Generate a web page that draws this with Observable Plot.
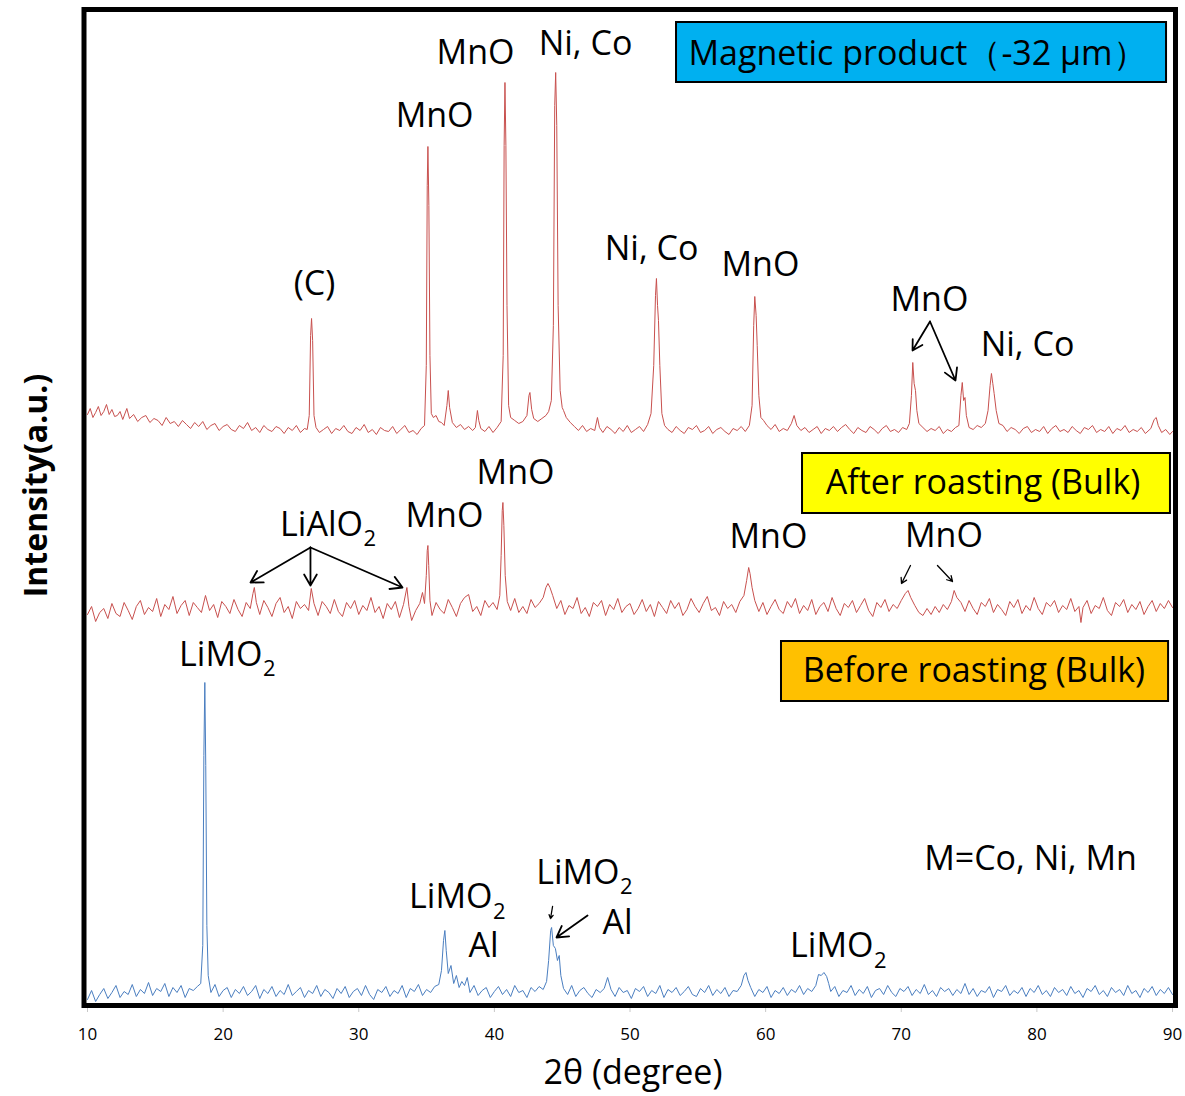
<!DOCTYPE html>
<html><head><meta charset="utf-8">
<script src="https://cdn.jsdelivr.net/npm/d3@7"></script>
<script src="https://cdn.jsdelivr.net/npm/@observablehq/plot@0.6"></script>
<style>body{margin:0;background:#fff}#chart svg{display:block}</style>
</head><body><div id="chart"></div>
<script>
// 2θ (degree), intensity (a.u., stacked display units)
const magneticProduct = [[10.0,591],[10.2,597],[10.4,588],[10.6,593],[10.8,599],[11.0,590],[11.2,594],[11.4,601],[11.6,591],[11.8,596],[12.0,589],[12.2,590],[12.4,594],[12.6,586],[12.9,597],[13.1,587],[13.4,591],[13.7,584],[14.0,588],[14.3,590],[14.6,583],[14.9,587],[15.2,585],[15.5,580],[15.8,588],[16.1,582],[16.4,584],[16.7,579],[17.0,585],[17.3,581],[17.6,577],[17.9,583],[18.2,579],[18.5,584],[18.8,576],[19.1,580],[19.4,582],[19.7,575],[20.0,579],[20.3,581],[20.6,576],[20.9,574],[21.2,580],[21.5,577],[21.8,583],[22.1,575],[22.4,578],[22.7,573],[23.0,580],[23.3,576],[23.6,574],[23.9,579],[24.2,577],[24.5,572],[24.8,578],[25.1,575],[25.4,580],[25.7,573],[26.0,577],[26.2,576],[26.35,590],[26.45,670],[26.52,687],[26.6,665],[26.7,590],[26.85,578],[27.1,573],[27.4,576],[27.7,579],[28.0,572],[28.3,577],[28.6,575],[28.9,580],[29.2,574],[29.5,572],[29.8,578],[30.1,575],[30.4,581],[30.7,573],[31.0,576],[31.3,571],[31.6,578],[31.9,575],[32.2,574],[32.5,579],[32.8,572],[33.1,576],[33.4,580],[33.7,573],[34.0,575],[34.3,571],[34.6,577],[34.85,580],[34.98,640],[35.05,820],[35.1,859],[35.17,800],[35.25,650],[35.35,592],[35.5,588],[35.7,590],[35.9,584],[36.1,583],[36.3,580],[36.5,600],[36.6,615],[36.7,598],[36.9,583],[37.2,578],[37.5,581],[37.8,576],[38.1,579],[38.4,575],[38.6,578],[38.75,595],[38.85,585],[39.0,577],[39.3,574],[39.6,579],[39.9,573],[40.2,578],[40.5,584],[40.65,650],[40.72,860],[40.78,923],[40.85,860],[40.93,700],[41.05,600],[41.2,588],[41.5,585],[41.8,582],[42.1,584],[42.4,590],[42.55,610],[42.62,613],[42.75,596],[42.9,587],[43.2,584],[43.5,587],[43.8,590],[44.0,594],[44.2,605],[44.35,680],[44.45,900],[44.52,933],[44.6,880],[44.7,700],[44.85,615],[45.0,598],[45.1,595],[45.3,588],[45.6,583],[45.9,579],[46.2,575],[46.5,580],[46.8,574],[47.1,577],[47.4,575],[47.6,588],[47.75,578],[48.0,573],[48.3,579],[48.6,576],[48.9,572],[49.2,578],[49.5,574],[49.8,580],[50.1,573],[50.4,576],[50.7,579],[51.0,574],[51.3,581],[51.55,592],[51.75,640],[51.88,710],[51.95,727],[52.03,700],[52.1,685],[52.2,640],[52.35,592],[52.55,580],[52.8,576],[53.1,573],[53.4,579],[53.7,575],[54.0,572],[54.3,578],[54.6,576],[54.9,580],[55.2,573],[55.5,575],[55.8,579],[56.1,572],[56.4,576],[56.7,578],[57.0,574],[57.3,571],[57.6,577],[57.9,575],[58.2,579],[58.5,574],[58.8,580],[59.0,600],[59.12,680],[59.2,709],[59.3,690],[59.38,660],[59.5,610],[59.65,588],[59.85,585],[60.1,580],[60.4,576],[60.7,581],[61.0,574],[61.3,577],[61.6,575],[61.9,582],[62.1,590],[62.3,580],[62.6,575],[62.9,578],[63.2,573],[63.5,576],[63.8,579],[64.1,572],[64.4,577],[64.7,575],[65.0,579],[65.3,574],[65.6,578],[65.9,581],[66.2,576],[66.5,572],[66.8,578],[67.1,575],[67.4,573],[67.7,579],[68.0,576],[68.3,572],[68.6,577],[68.9,580],[69.2,574],[69.5,576],[69.8,573],[70.1,578],[70.4,576],[70.6,582],[70.75,610],[70.85,643],[70.95,622],[71.05,615],[71.15,595],[71.3,582],[71.6,578],[71.9,574],[72.2,577],[72.5,575],[72.8,579],[73.1,572],[73.4,576],[73.7,574],[74.0,578],[74.25,580],[74.4,610],[74.5,623],[74.6,605],[74.7,608],[74.8,590],[75.0,578],[75.3,576],[75.6,580],[75.9,578],[76.2,582],[76.4,595],[76.55,620],[76.65,632],[76.75,622],[76.85,612],[77.0,595],[77.2,582],[77.5,580],[77.8,574],[78.1,578],[78.4,576],[78.7,572],[79.0,577],[79.3,579],[79.6,573],[79.9,576],[80.2,574],[80.5,579],[80.8,572],[81.1,577],[81.4,580],[81.7,574],[82.0,576],[82.3,573],[82.6,579],[82.9,575],[83.2,572],[83.5,578],[83.8,576],[84.1,580],[84.4,573],[84.7,576],[85.0,574],[85.3,579],[85.6,572],[85.9,577],[86.2,575],[86.5,580],[86.8,573],[87.1,576],[87.4,574],[87.7,578],[88.0,572],[88.4,577],[88.65,586],[88.8,588],[88.95,580],[89.2,573],[89.5,576],[89.8,571],[90.0,574]];

const afterRoasting = [[10.0,391],[10.3,399],[10.6,384],[10.9,393],[11.2,397],[11.5,387],[11.8,402],[12.1,392],[12.4,389],[12.7,403],[13.0,395],[13.3,386],[13.6,399],[13.9,405],[14.2,391],[14.5,398],[14.8,394],[15.1,407],[15.4,389],[15.7,401],[16.0,396],[16.3,409],[16.6,392],[16.9,400],[17.2,405],[17.5,390],[17.8,403],[18.1,398],[18.4,393],[18.7,410],[19.0,395],[19.3,401],[19.6,388],[19.9,404],[20.2,399],[20.5,392],[20.8,406],[21.1,396],[21.4,389],[21.7,403],[22.0,397],[22.2,412],[22.3,418],[22.45,403],[22.7,391],[23.0,405],[23.3,398],[23.6,389],[23.9,402],[24.2,408],[24.5,393],[24.8,399],[25.1,387],[25.4,404],[25.7,397],[26.0,401],[26.3,395],[26.5,417],[26.7,402],[27.0,390],[27.3,404],[27.6,399],[27.9,392],[28.2,406],[28.5,394],[28.8,389],[29.1,403],[29.4,397],[29.7,405],[30.0,391],[30.3,400],[30.6,395],[30.9,408],[31.2,393],[31.5,399],[31.8,387],[32.1,402],[32.4,396],[32.7,404],[33.0,388],[33.3,401],[33.55,418],[33.7,399],[33.9,385],[34.2,395],[34.5,402],[34.7,413],[34.85,402],[34.98,430],[35.05,455],[35.1,460],[35.16,440],[35.25,405],[35.4,390],[35.7,403],[36.0,396],[36.3,392],[36.6,406],[36.9,398],[37.2,389],[37.5,402],[37.8,408],[38.1,411],[38.4,394],[38.7,399],[39.0,390],[39.3,405],[39.6,398],[39.9,403],[40.2,396],[40.4,410],[40.5,450],[40.58,495],[40.63,503],[40.7,480],[40.8,430],[40.95,404],[41.2,395],[41.5,407],[41.8,393],[42.1,399],[42.4,392],[42.7,406],[43.0,398],[43.3,402],[43.6,408],[43.8,418],[43.95,422],[44.1,418],[44.3,410],[44.6,397],[44.9,405],[45.2,391],[45.5,400],[45.8,397],[46.1,408],[46.4,392],[46.7,398],[47.0,389],[47.3,403],[47.6,399],[47.9,405],[48.2,390],[48.5,401],[48.8,396],[49.1,407],[49.4,393],[49.7,399],[50.0,402],[50.3,391],[50.6,397],[50.9,406],[51.2,394],[51.5,401],[51.8,389],[52.1,404],[52.4,398],[52.7,392],[53.0,405],[53.3,397],[53.6,403],[53.9,390],[54.2,396],[54.5,407],[54.8,399],[55.1,393],[55.4,402],[55.7,409],[56.0,395],[56.3,398],[56.6,390],[56.9,404],[57.2,397],[57.5,401],[57.8,393],[58.1,404],[58.4,410],[58.6,425],[58.75,438],[58.85,432],[59.0,418],[59.2,405],[59.5,394],[59.8,403],[60.1,391],[60.4,399],[60.7,406],[61.0,396],[61.3,392],[61.6,404],[61.9,398],[62.2,407],[62.5,392],[62.8,400],[63.1,395],[63.4,406],[63.7,391],[64.0,399],[64.3,403],[64.6,394],[64.9,408],[65.2,397],[65.5,390],[65.8,402],[66.1,398],[66.4,405],[66.7,393],[67.0,400],[67.3,407],[67.6,395],[67.9,389],[68.2,403],[68.5,398],[68.8,406],[69.1,394],[69.4,401],[69.7,397],[70.0,405],[70.3,412],[70.5,415],[70.7,408],[71.0,400],[71.3,393],[71.6,390],[71.9,397],[72.2,391],[72.5,399],[72.8,393],[73.1,401],[73.4,396],[73.7,404],[73.9,415],[74.1,408],[74.4,403],[74.7,394],[75.0,405],[75.3,397],[75.6,391],[75.9,403],[76.2,399],[76.5,407],[76.8,393],[77.1,401],[77.4,396],[77.7,390],[78.0,404],[78.3,398],[78.6,406],[78.9,392],[79.2,400],[79.5,395],[79.8,408],[80.1,397],[80.4,391],[80.7,403],[81.0,399],[81.3,405],[81.6,393],[81.9,400],[82.2,396],[82.5,407],[82.8,394],[83.1,399],[83.25,383],[83.4,398],[83.7,405],[84.0,392],[84.3,400],[84.6,397],[84.9,408],[85.2,395],[85.5,390],[85.8,403],[86.1,399],[86.4,406],[86.7,393],[87.0,401],[87.3,396],[87.6,404],[87.9,391],[88.2,399],[88.5,405],[88.8,394],[89.1,402],[89.4,397],[89.7,405],[90.0,398]];

const beforeRoasting = [[10.0,6],[10.3,15],[10.6,4],[10.9,11],[11.2,17],[11.5,7],[11.8,13],[12.1,20],[12.4,8],[12.7,14],[13.0,11],[13.3,21],[13.6,9],[13.9,16],[14.2,12],[14.5,23],[14.8,10],[15.1,17],[15.4,14],[15.7,22],[16.0,9],[16.3,18],[16.6,13],[16.9,20],[17.2,8],[17.5,17],[17.8,15],[18.1,19],[18.35,22],[18.5,60],[18.58,250],[18.65,323],[18.72,240],[18.8,80],[18.9,30],[19.1,13],[19.4,21],[19.7,9],[20.0,15],[20.3,18],[20.6,8],[20.9,16],[21.2,12],[21.5,19],[21.8,10],[22.1,14],[22.4,20],[22.7,7],[23.0,16],[23.3,12],[23.6,19],[23.9,9],[24.2,15],[24.5,11],[24.8,21],[25.1,10],[25.4,14],[25.7,18],[26.0,8],[26.3,15],[26.6,12],[26.9,20],[27.2,9],[27.5,16],[27.8,13],[28.1,7],[28.4,17],[28.7,12],[29.0,19],[29.3,8],[29.6,14],[29.9,17],[30.2,10],[30.5,20],[30.8,11],[31.1,6],[31.4,16],[31.7,13],[32.0,19],[32.3,9],[32.6,15],[32.9,12],[33.2,20],[33.5,8],[33.8,17],[34.1,14],[34.4,21],[34.7,10],[35.0,16],[35.3,13],[35.6,19],[35.9,21],[36.1,35],[36.25,65],[36.35,75],[36.45,55],[36.6,32],[36.8,40],[37.0,22],[37.2,30],[37.4,18],[37.6,24],[37.8,20],[38.0,28],[38.2,13],[38.5,20],[38.8,10],[39.1,15],[39.4,18],[39.7,8],[40.0,14],[40.3,19],[40.6,11],[40.9,16],[41.2,9],[41.5,20],[41.8,13],[42.1,15],[42.4,8],[42.7,18],[43.0,14],[43.3,19],[43.6,16],[43.85,24],[44.0,45],[44.15,75],[44.22,78],[44.35,60],[44.5,57],[44.65,45],[44.78,50],[44.9,30],[45.1,17],[45.4,11],[45.7,20],[46.0,9],[46.3,15],[46.6,18],[46.9,12],[47.2,8],[47.5,16],[47.8,13],[48.1,17],[48.35,28],[48.6,16],[48.9,9],[49.2,18],[49.5,13],[49.8,15],[50.1,7],[50.4,17],[50.7,14],[51.0,19],[51.3,9],[51.6,15],[51.9,12],[52.2,20],[52.5,8],[52.8,16],[53.1,13],[53.4,18],[53.7,10],[54.0,14],[54.3,19],[54.6,11],[54.9,9],[55.2,17],[55.5,13],[55.8,20],[56.1,10],[56.4,16],[56.7,12],[57.0,18],[57.3,9],[57.6,15],[57.9,14],[58.2,20],[58.4,30],[58.55,33],[58.7,25],[58.9,18],[59.2,9],[59.5,16],[59.8,13],[60.1,19],[60.4,8],[60.7,15],[61.0,12],[61.3,18],[61.6,10],[61.9,16],[62.2,13],[62.5,20],[62.8,11],[63.1,17],[63.4,14],[63.7,20],[63.9,31],[64.1,30],[64.3,33],[64.5,29],[64.65,22],[64.8,14],[65.1,19],[65.4,9],[65.7,15],[66.0,13],[66.3,20],[66.6,10],[66.9,16],[67.2,12],[67.5,19],[67.8,8],[68.1,15],[68.4,17],[68.7,11],[69.0,20],[69.3,13],[69.6,9],[69.9,17],[70.2,14],[70.5,19],[70.8,10],[71.1,16],[71.4,12],[71.7,21],[72.0,11],[72.3,15],[72.6,9],[72.9,18],[73.2,14],[73.5,17],[73.8,10],[74.1,16],[74.4,12],[74.7,22],[75.0,11],[75.3,17],[75.6,9],[75.9,15],[76.2,13],[76.5,19],[76.8,8],[77.1,16],[77.4,14],[77.7,20],[78.0,10],[78.3,15],[78.6,12],[78.9,18],[79.2,9],[79.5,17],[79.8,13],[80.1,20],[80.4,11],[80.7,15],[81.0,9],[81.3,18],[81.6,13],[81.9,16],[82.2,10],[82.5,19],[82.8,12],[83.1,15],[83.4,8],[83.7,17],[84.0,14],[84.3,20],[84.6,11],[84.9,15],[85.2,9],[85.5,18],[85.8,13],[86.1,16],[86.4,10],[86.7,20],[87.0,12],[87.3,15],[87.6,8],[87.9,17],[88.2,13],[88.5,19],[88.8,10],[89.1,16],[89.4,12],[89.7,18],[90.0,11]];

const xTicks = [10, 20, 30, 40, 50, 60, 70, 80, 90];
const seriesNames = ["Magnetic product（-32 μm）", "After roasting (Bulk)", "Before roasting (Bulk)"];
const xLabel = "2θ (degree)";
const yLabel = "Intensity(a.u.)";

const FONT = "'Open Sans', 'Noto Sans', sans-serif";
const RED = "#C8504E", BLUE = "#4A7EC0";
const pt = d => ({x: d[0], y: d[1]});

const T = (items, opts = {}) => Plot.text(items, {x: "x", y: "y", text: "t", fontSize: 34, fill: "black", ...opts});
const A = (items, opts = {}) => Plot.arrow(items, {x1: "x1", y1: "y1", x2: "x2", y2: "y2", stroke: "black", strokeWidth: 1.8, headLength: 11, ...opts});

const chart = Plot.plot({
  width: 1185,
  height: 1096,
  marginLeft: 83.5,
  marginRight: 10,
  marginTop: 9,
  marginBottom: 91,
  style: {fontFamily: FONT, background: "white"},
  x: {domain: [10, 90], insetLeft: 3.5, insetRight: 3, axis: null},
  y: {domain: [0, 996], axis: null},
  marks: [
    Plot.axisX({ticks: xTicks, tickSize: 7, text: null, stroke: "#c8c8c8"}),
    Plot.axisX({ticks: xTicks, tickSize: 0, tickPadding: 22, fontSize: 17, tickFormat: d => String(d), fill: "black"}),
    Plot.line(beforeRoasting.map(pt), {x: "x", y: "y", stroke: BLUE, strokeWidth: 1}),
    Plot.line(afterRoasting.map(pt), {x: "x", y: "y", stroke: RED, strokeWidth: 1}),
    Plot.line(magneticProduct.map(pt), {x: "x", y: "y", stroke: RED, strokeWidth: 1}),
    Plot.frame({stroke: "black", strokeWidth: 5}),
    // sample boxes
    Plot.rect([
      {x1: 53.43, x2: 89.56, y1: 923, y2: 983, c: "#00B0F0"},
      {x1: 62.72, x2: 89.85, y1: 492, y2: 552, c: "#FFFF00"},
      {x1: 61.17, x2: 89.71, y1: 304, y2: 364, c: "#FFC000"}
    ], {x1: "x1", x2: "x2", y1: "y1", y2: "y2", fill: "c", stroke: "black", strokeWidth: 2}),
    T([
      {x: 71.2, y: 951.5, t: seriesNames[0]},
      {x: 76.03, y: 522.5, t: seriesNames[1]},
      {x: 75.36, y: 334.5, t: seriesNames[2]}
    ]),
    // peak labels
    T([
      {x: 26.74, y: 721, t: "(C)"},
      {x: 35.59, y: 889, t: "MnO"},
      {x: 38.61, y: 952, t: "MnO"},
      {x: 46.72, y: 961, t: "Ni, Co"},
      {x: 51.59, y: 756, t: "Ni, Co"},
      {x: 59.62, y: 740, t: "MnO"},
      {x: 72.08, y: 705, t: "MnO"},
      {x: 79.31, y: 660, t: "Ni, Co"},
      {x: 36.32, y: 489, t: "MnO"},
      {x: 41.56, y: 532, t: "MnO"},
      {x: 60.21, y: 468, t: "MnO"},
      {x: 73.15, y: 469, t: "MnO"},
      {x: 39.20, y: 59, t: "Al"},
      {x: 49.08, y: 82, t: "Al"},
      {x: 79.53, y: 146.5, t: "M=Co, Ni, Mn"}
    ]),
    T([
      {x: 30.31, y: 480, t: "LiAlO"},
      {x: 22.90, y: 350, t: "LiMO"},
      {x: 39.86, y: 108, t: "LiMO"},
      {x: 49.23, y: 132, t: "LiMO"},
      {x: 67.95, y: 59.5, t: "LiMO"}
    ], {textAnchor: "end"}),
    T([
      {x: 30.35, y: 467, t: "2"},
      {x: 22.94, y: 337, t: "2"},
      {x: 39.90, y: 94, t: "2"},
      {x: 49.27, y: 119, t: "2"},
      {x: 67.99, y: 45, t: "2"}
    ], {textAnchor: "start", fontSize: 22}),
    // arrows
    A([
      {x1: 72.12, y1: 684, x2: 70.83, y2: 655},
      {x1: 72.12, y1: 684, x2: 74.0, y2: 625},
      {x1: 26.44, y1: 458, x2: 22.02, y2: 423},
      {x1: 26.44, y1: 458, x2: 26.44, y2: 420},
      {x1: 26.44, y1: 458, x2: 33.23, y2: 418},
      {x1: 46.87, y1: 90, x2: 44.58, y2: 68}
    ]),
    A([
      {x1: 70.68, y1: 440, x2: 70.02, y2: 422},
      {x1: 72.67, y1: 440, x2: 73.78, y2: 424},
      {x1: 44.29, y1: 99, x2: 44.14, y2: 87}
    ], {strokeWidth: 1.3, headLength: 7}),
    // axis titles
    T([{x: 50.22, y: -68, t: xLabel}], {fontSize: 34}),
    T([{x: 6.24, y: 520, t: yLabel}], {fontSize: 32, fontWeight: "bold", rotate: -90})
  ]
});
document.getElementById("chart").appendChild(chart);
</script>
</body></html>
